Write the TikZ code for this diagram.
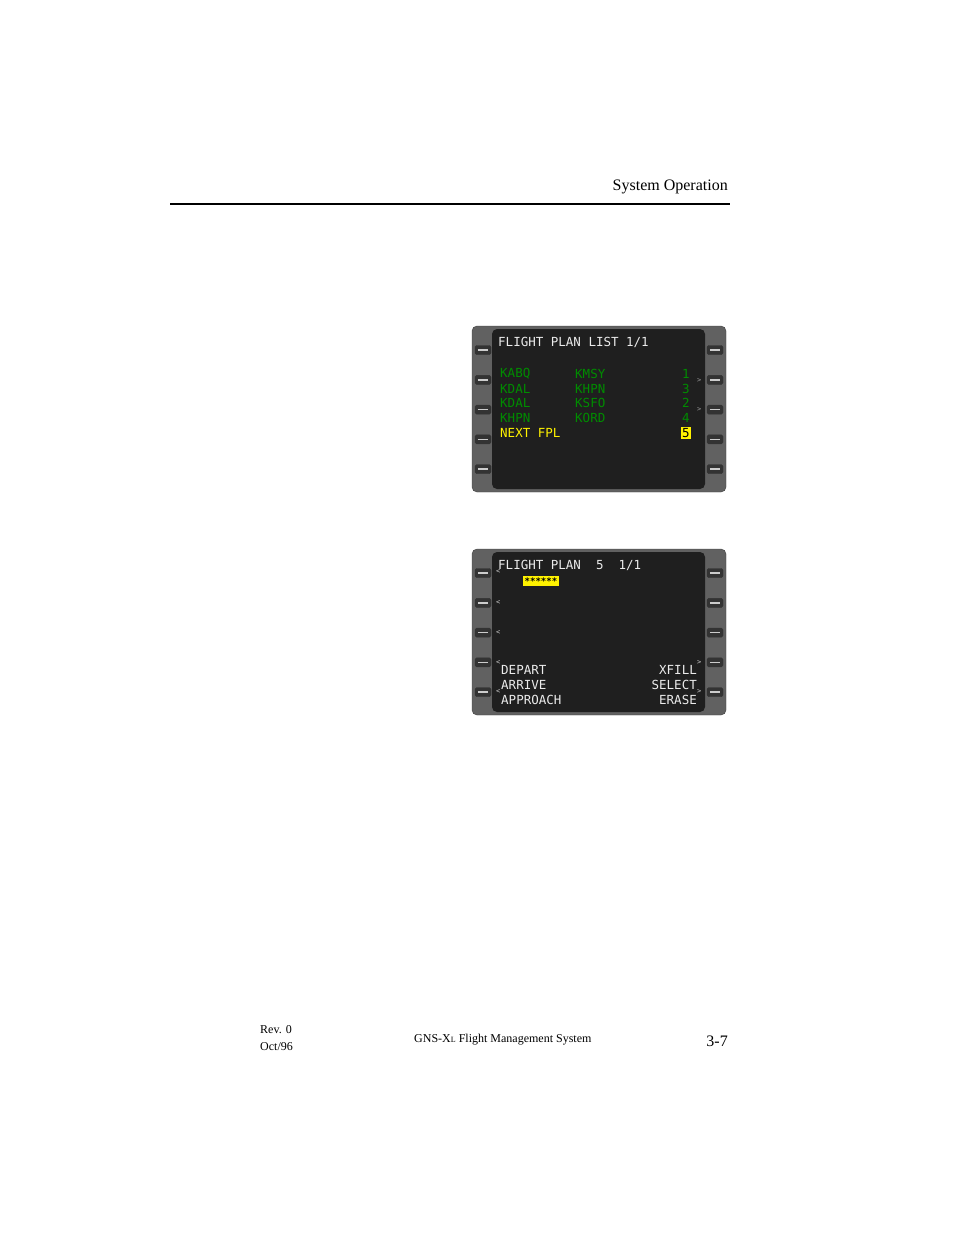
\documentclass[tikz,border=0pt]{standalone}
\usepackage{fontspec}
\setmainfont{Liberation Serif}
\newfontfamily\mono{DejaVu Sans Mono}
\begin{document}
\begin{tikzpicture}[x=1pt,y=-1pt,
  bezel/.style={fill=black!62,draw=black!75,rounded corners=5pt},
  scr/.style={fill=black!88,rounded corners=5pt},
  btn/.style={fill=black!80,draw=black!80,rounded corners=1.5pt,minimum width=16pt,minimum height=9pt,inner sep=0pt},
  bar/.style={white!80!black,line width=1.6pt},
  t/.style={font=\mono\fontsize{12.5}{13}\selectfont,anchor=west,inner sep=0pt,text=white!92!black},
  g/.style={t,text=green!55!black},
  yl/.style={t,text=yellow},
  hd/.style={font=\fontsize{16}{18}\selectfont,inner sep=0pt},
  ft/.style={font=\fontsize{12}{14}\selectfont,inner sep=0pt,anchor=west}]
\useasboundingbox[fill=white] (0,0) rectangle (954,1235);
\node[hd,anchor=east] (title) at (728,187) {System Operation};
\draw[line width=1.2pt] (170,204) -- (730,204);
% screens
\foreach \yo/\nm in {326/a,549/b}{
  \draw[bezel] (472,\yo) rectangle (726,\yo+166);
  \fill[scr] (492,\yo+3) rectangle (705,\yo+163);
  \foreach \k in {0,...,4}{
    \node[btn] (L\nm\k) at (483,\yo+24+\k*29.8) {};
    \draw[bar] ([xshift=3pt]L\nm\k.west) -- ([xshift=-3pt]L\nm\k.east);
    \node[btn] (R\nm\k) at (715,\yo+24+\k*29.8) {};
    \draw[bar] ([xshift=3pt]R\nm\k.west) -- ([xshift=-3pt]R\nm\k.east);
  }
}
% screen 1
\node[t] (h1) at (498,342) {FLIGHT PLAN LIST 1/1};
\node[g] (a1) at (500,374) {KABQ};\node[g] (b1) at (575,374) {KMSY};\node[g] (c1) at (682,374) {1};
\node[g] (a2) at (500,389) {KDAL};\node[g] (b2) at (575,389) {KHPN};\node[g] (c2) at (682,389) {3};
\node[g] (a3) at (500,403) {KDAL};\node[g] (b3) at (575,403) {KSFO};\node[g] (c3) at (682,403) {2};
\node[g] (a4) at (500,418) {KHPN};\node[g] (b4) at (575,418) {KORD};\node[g] (c4) at (682,418) {4};
\node[yl] (nx) at (500,433) {NEXT FPL};
\node[t,fill=yellow,text=black,inner sep=1pt] (c5) at (681,433) {5};
\node[t,font=\mono\fontsize{7}{7}\selectfont,text=black!40] (ar1) at (697,381) {>};
\node[t,font=\mono\fontsize{7}{7}\selectfont,text=black!40] (ar2) at (697,410) {>};
% screen 2
\node[t] (h2) at (498,565) {FLIGHT PLAN\ \ 5\ \ 1/1};
\node[t,fill=yellow,text=black,inner sep=1.5pt,font=\mono\fontsize{9}{9}\selectfont\bfseries] (st) at (523,581) {******};
\foreach \yy/\n in {572/p1,603/p2,633/p3,663/p4,692/p5}{
  \node[t,font=\mono\fontsize{7}{7}\selectfont,text=white!80!black] (\n) at (496,\yy) {<};}
\node[t,font=\mono\fontsize{7}{7}\selectfont,text=white!80!black] (q1) at (697,663) {>};
\node[t,font=\mono\fontsize{7}{7}\selectfont,text=white!80!black] (q2) at (697,692) {>};
\node[t] (d1) at (501,670) {DEPART};
\node[t] (d2) at (501,685) {ARRIVE};
\node[t] (d3) at (501,700) {APPROACH};
\node[t,anchor=east] (e1) at (697,670) {XFILL};
\node[t,anchor=east] (e2) at (697,685) {SELECT};
\node[t,anchor=east] (e3) at (697,700) {ERASE};
% footer
\node[ft] (rev) at (260,1030) {Rev. 0};
\node[ft] (oct) at (260,1047) {Oct/96};
\node[ft] (gns) at (414,1040) {GNS-X{\fontsize{8}{9}\selectfont L} Flight Management System};
\node[ft,anchor=east,font=\fontsize{16}{18}\selectfont] (pg) at (728,1041) {3-7};
\end{tikzpicture}
\end{document}
